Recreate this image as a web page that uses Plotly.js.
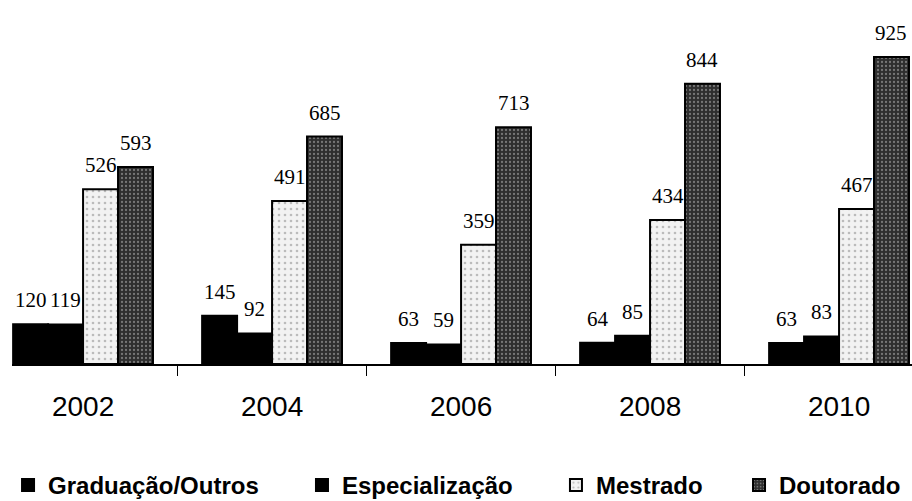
<!DOCTYPE html>
<html>
<head>
<meta charset="utf-8">
<script src="https://cdn.plot.ly/plotly-3.0.1.min.js"></script>
<style>html,body{margin:0;padding:0;background:#fff;}#chart{width:912px;height:501px;}</style>
</head>
<body>
<div id="chart"></div>
<script>
const years = ["2002", "2004", "2006", "2008", "2010"];
const graduacao = [120, 145, 63, 64, 63];
const especializacao = [119, 92, 59, 85, 83];
const mestrado = [526, 491, 359, 434, 467];
const doutorado = [593, 685, 713, 844, 925];

const seriesNames = ["Graduação/Outros", "Especialização", "Mestrado", "Doutorado"];
const seriesData = [graduacao, especializacao, mestrado, doutorado];
const fills = ["#000000", "#000000", "#eeeeee", "#3c3c3c"];
const legendIds = ["legend", "legend2", "legend3", "legend4"];
const legendX = [-0.0044, 0.3222, 0.6044, 0.8078];

const bargap = 0.26;
const plotW = 900;
const xRange = [-0.376, 4.386];
const catPx = plotW / (xRange[1] - xRange[0]);
const barPx = catPx * (1 - bargap) / seriesData.length;

const traces = seriesData.map((vals, i) => ({
  type: "bar",
  name: seriesNames[i],
  legend: legendIds[i],
  x: years,
  y: vals,
  marker: {
    color: fills[i],
    line: {color: "#000", width: 2},
    pattern: i === 2 ? {shape: ".", fgcolor: "#bbbbbb", bgcolor: "#f2f2f2", size: 6, solidity: 0.15}
           : i === 3 ? {shape: ".", fgcolor: "#777777", bgcolor: "#2e2e2e", size: 4, solidity: 0.25}
           : undefined
  },
  hoverinfo: "skip"
}));

const annotations = [];
seriesData.forEach((vals, i) => {
  vals.forEach((v, j) => {
    annotations.push({
      x: j, y: v, xref: "x", yref: "y",
      text: String(v), showarrow: false,
      xanchor: "center", yanchor: "bottom",
      xshift: (i - (seriesData.length - 1) / 2) * barPx,
      yshift: 10,
      font: {family: "Liberation Serif", size: 21, color: "#000"}
    });
  });
});

const legendFont = {family: "Liberation Sans", size: 24, weight: "bold", color: "#000"};
const layout = {
  width: 912, height: 501,
  margin: {l: 12, r: 0, t: 32, b: 137, autoexpand: false},
  paper_bgcolor: "#fff", plot_bgcolor: "#fff",
  barmode: "group",
  bargap: bargap, bargroupgap: 0,
  xaxis: {
    type: "category",
    range: xRange,
    showline: true, linecolor: "#000", linewidth: 2,
    ticks: "outside", tickson: "boundaries", ticklen: 10, tickcolor: "#000", tickwidth: 1,
    tickfont: {family: "Liberation Sans", size: 28, color: "#000"},
    ticklabelstandoff: 16,
    automargin: false,
    showgrid: false, zeroline: false, fixedrange: true
  },
  yaxis: {
    range: [0, 1000],
    showticklabels: false, ticks: "", showline: false,
    showgrid: false, zeroline: false, fixedrange: true
  },
  annotations: annotations,
  showlegend: true
};
legendIds.forEach((id, i) => {
  layout[id] = {
    orientation: "h", x: legendX[i], xanchor: "left", y: -0.366, yanchor: "middle",
    font: legendFont, itemwidth: 30, bgcolor: "rgba(0,0,0,0)"
  };
});

Plotly.newPlot("chart", traces, layout, {displayModeBar: false, staticPlot: true});
</script>
</body>
</html>
